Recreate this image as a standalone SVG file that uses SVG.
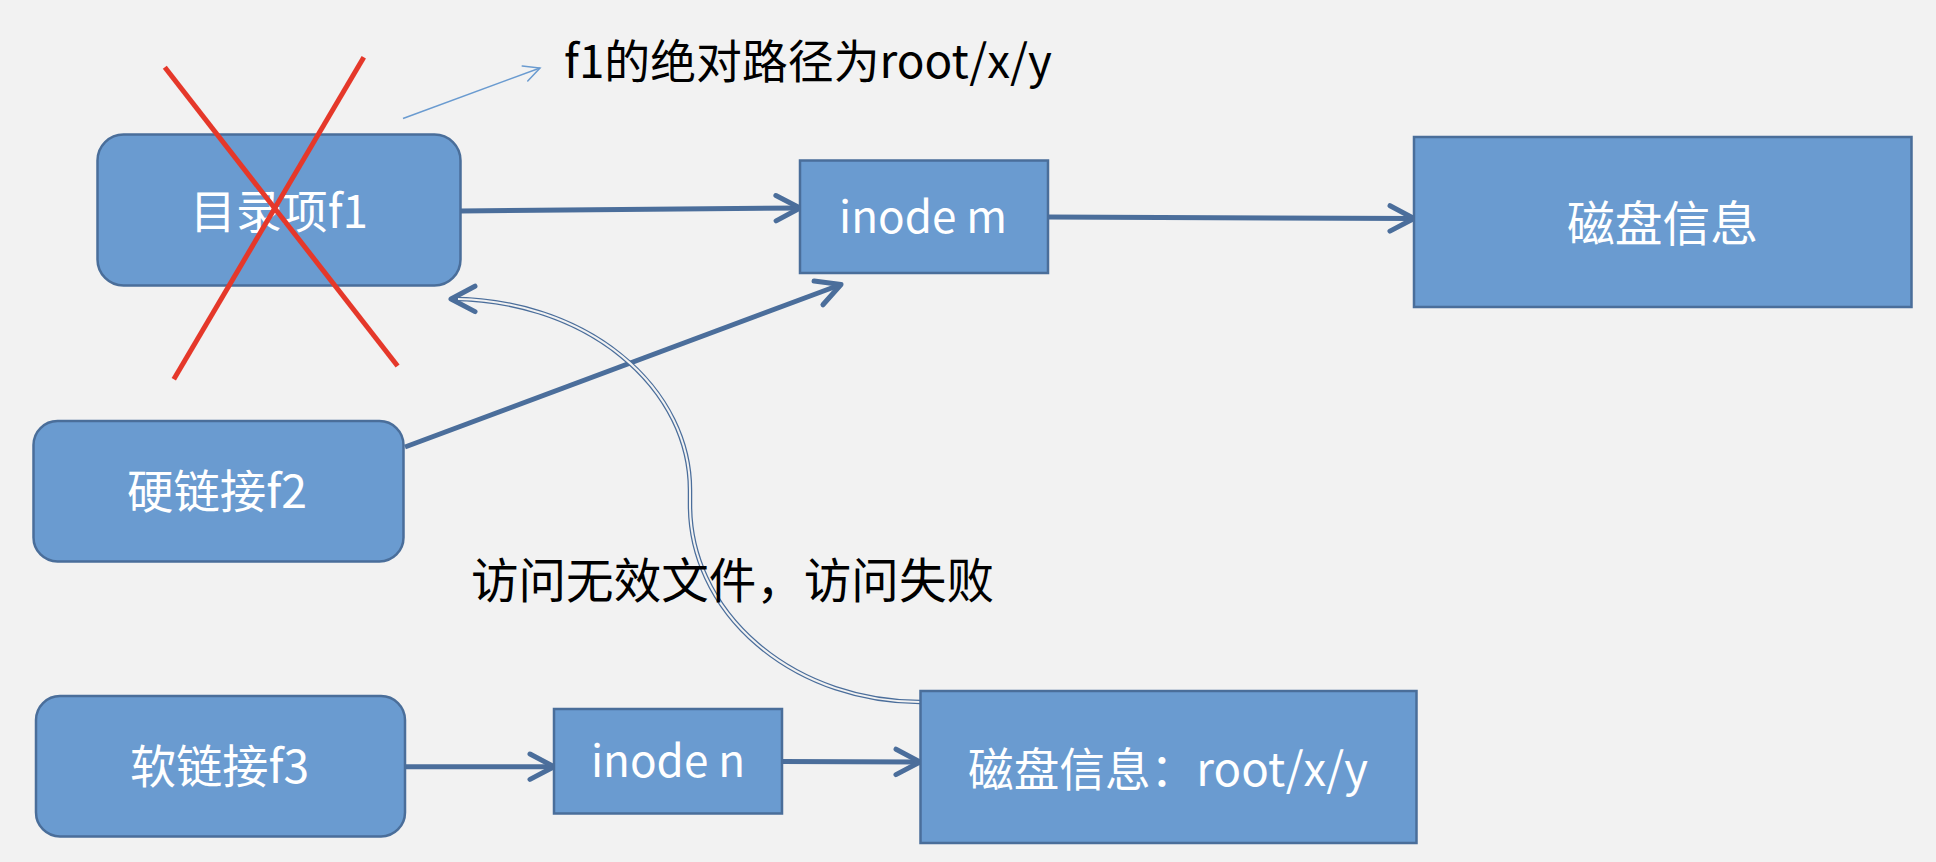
<svg xmlns="http://www.w3.org/2000/svg" width="1936" height="862" viewBox="0 0 1936 862">
<style>
.box{fill:#6A9BD0;stroke:#4A6E9A;stroke-width:2.5}
.lbl{fill:#FFFFFF;font-family:"Noto Sans CJK SC","Noto Sans",sans-serif;text-anchor:middle}
.blk{fill:#000000;font-family:"Noto Sans CJK SC","Noto Sans",sans-serif}
.conn{fill:none;stroke:#4B6E9B;stroke-width:5}
</style>
<defs>
<marker id="arr" markerUnits="userSpaceOnUse" markerWidth="40" markerHeight="40" refX="30" refY="20" orient="auto" viewBox="0 0 40 40">
<path d="M6,7.3 L30,20 L6,32.7" fill="none" stroke="#4B6E9B" stroke-width="5" stroke-linecap="round" stroke-linejoin="round"/>
</marker>
<marker id="arrThin" markerUnits="userSpaceOnUse" markerWidth="30" markerHeight="30" refX="20" refY="15" orient="auto" viewBox="0 0 30 30">
<path d="M4,7 L20,15 L4,23" fill="none" stroke="#6A9BD0" stroke-width="1.5" stroke-linecap="round"/>
</marker>
</defs>
<rect x="0" y="0" width="1936" height="862" fill="#F2F2F2"/>

<g id="connectors">
<path class="conn" d="M460.5,211 L800,208" marker-end="url(#arr)"/>
<path class="conn" d="M1048,217 L1414,218.5" marker-end="url(#arr)"/>
<path class="conn" d="M405,447 L841,284.5" marker-end="url(#arr)"/>
<path class="conn" d="M405,766.7 L554,766.7" marker-end="url(#arr)"/>
<path class="conn" d="M782,761.5 L920,762" marker-end="url(#arr)"/>
<path d="M936,704 L920,702 A230,197 0 0 1 690,505 L690,490 A238,191 0 0 0 451,299" fill="none" stroke="#4B6E9B" stroke-width="4.5" marker-end="url(#arr)"/>
<path d="M936,704 L920,702 A230,197 0 0 1 690,505 L690,490 A238,191 0 0 0 458,299" fill="none" stroke="#F2F2F2" stroke-width="2"/>
<path d="M403,118.5 L540,68" fill="none" stroke="#6A9BD0" stroke-width="1.5" marker-end="url(#arrThin)"/>
</g>

<g id="node-f1">
<rect class="box" x="97.5" y="134.5" width="363" height="151" rx="26" ry="26"/>
<text class="lbl" x="279" y="228" font-size="46" textLength="178" lengthAdjust="spacingAndGlyphs">目录项f1</text>
</g>
<g id="node-inode-m">
<rect class="box" x="800" y="160.5" width="248" height="112.5"/>
<text class="lbl" x="923" y="233" font-size="44">inode m</text>
</g>
<g id="node-disk">
<rect class="box" x="1414" y="137" width="497.5" height="170"/>
<text class="lbl" x="1662.5" y="241" font-size="48" textLength="191" lengthAdjust="spacingAndGlyphs">磁盘信息</text>
</g>
<g id="node-f2">
<rect class="box" x="33.5" y="421" width="370" height="140.5" rx="24" ry="24"/>
<text class="lbl" x="217" y="508" font-size="46" textLength="180" lengthAdjust="spacingAndGlyphs">硬链接f2</text>
</g>
<g id="node-f3">
<rect class="box" x="36" y="696" width="369" height="140.5" rx="24" ry="24"/>
<text class="lbl" x="219.5" y="783" font-size="46" textLength="179" lengthAdjust="spacingAndGlyphs">软链接f3</text>
</g>
<g id="node-inode-n">
<rect class="box" x="554" y="709" width="228" height="104.5"/>
<text class="lbl" x="668" y="777" font-size="44">inode n</text>
</g>
<g id="node-disk-root">
<rect class="box" x="920.5" y="691" width="496" height="152"/>
<text class="lbl" x="1168" y="786" font-size="46" textLength="400" lengthAdjust="spacingAndGlyphs">磁盘信息：root/x/y</text>
</g>

<g id="cross">
<line x1="164.8" y1="67.3" x2="397.6" y2="366" stroke="#E5382A" stroke-width="5"/>
<line x1="363.8" y1="57.3" x2="173.8" y2="379.3" stroke="#E5382A" stroke-width="5"/>
</g>

<g id="labels">
<text class="blk" x="564" y="78" font-size="46" textLength="488" lengthAdjust="spacingAndGlyphs">f1的绝对路径为root/x/y</text>
<text class="blk" x="471" y="598" font-size="48" textLength="523" lengthAdjust="spacingAndGlyphs">访问无效文件，访问失败</text>
</g>
</svg>
